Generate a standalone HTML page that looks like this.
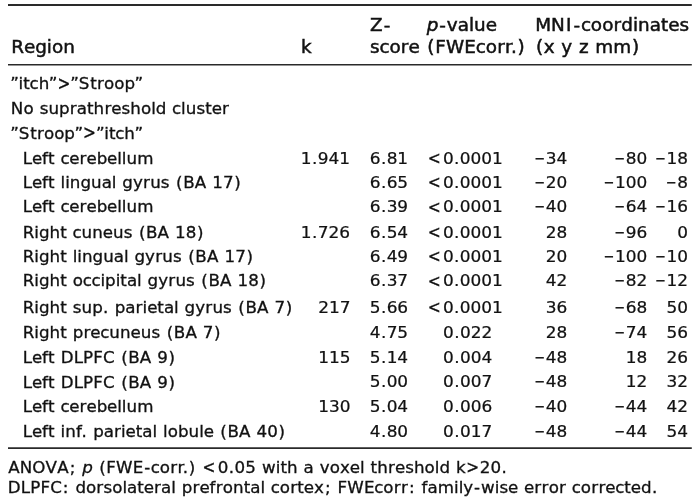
<!DOCTYPE html>
<html lang="en">
<head>
<meta charset="utf-8">
<title>Table</title>
<style>
html,body{margin:0;padding:0;background:#fff;}
body{width:700px;height:500px;overflow:hidden;}
svg{display:block;}
text{font-family:"DejaVu Sans", "Liberation Sans", sans-serif;fill:#111;stroke:#111;white-space:pre;}
.i{font-style:italic;}
.h{font-size:18.3px;stroke-width:0.5px;}
.b{font-size:16.7px;stroke-width:0.32px;}
.n{font-size:16.2px;stroke-width:0.24px;}
.f{font-size:15.6px;stroke-width:0.3px;}
</style>
</head>
<body>
<svg width="700" height="500" viewBox="0 0 700 500" xml:space="preserve">
<rect width="700" height="500" fill="#ffffff"/>
<line x1="8" y1="5.0" x2="691.8" y2="5.0" stroke="#2a2a2a" stroke-width="1.8"/>
<line x1="8" y1="64.7" x2="691.8" y2="64.7" stroke="#2a2a2a" stroke-width="1.6"/>
<line x1="8" y1="448.1" x2="691.8" y2="448.1" stroke="#2a2a2a" stroke-width="1.8"/>
<text class="h" transform="scale(1.005,1)" x="11.22 23.89 34.99 46.56 51.66 62.93" y="53.2">Region</text>
<text class="h" transform="scale(1.005,1)" x="299.58" y="53.2">k</text>
<text class="h" transform="scale(1.005,1)" x="368.23 381.74" y="30.9">Z-</text>
<text class="h" transform="scale(1.005,1)" x="368.21 377.59 387.46 398.87 406.47" y="53.2">score</text>
<text class="h" transform="scale(1.005,1)" x="424.53 437.01 444.57 455.42 466.58 471.72 483.26" y="30.9"><tspan class="i">p</tspan>-value</text>
<text class="h" transform="scale(1.005,1)" x="425.21 433.04 443.73 461.99 473.41 483.28 494.69 502.59 508.36 514.9" y="53.2">(FWEcorr.)</text>
<text class="h" transform="scale(1.005,1)" x="532.54 548.32 563.28 570.77 578.07 587.94 599.17 610.58 618.25 629.81 634.95 646.56 657.79 664.91 676.11" y="30.9">MNI-coordinates</text>
<text class="h" transform="scale(1.005,1)" x="533.27 541.1 552.34 558.57 569.82 576.04 586.05 592.3 610.31 628.86" y="53.2">(x y z mm)</text>
<g><text class="b" x="10.35 18.53 23.22 29.62 38.65 48.83" y="89.3">”itch”</text><text class="b" transform="scale(0.92,1.12)" x="62.49" y="79.96">&gt;</text><text class="b" x="70.37 78.66 90.16 96.92 103.97 114.21 124.39 134.49" y="89.3">”Stroop”</text></g>
<text class="b" x="10.86 23.43 33.97 39.64 48.43 59.02 69.74 76.73 86.97 93.61 104.41 111.34 121.55 130.34 140.98 151.2 155.79 166.66 172.08 181.06 185.74 196.41 205.21 211.7 222.03" y="113.9">No suprathreshold cluster</text>
<g><text class="b" x="10.35 18.64 30.13 36.9 43.94 54.18 64.37 74.47" y="138.7">”Stroop”</text><text class="b" transform="scale(0.92,1.12)" x="90.36" y="124.06">&gt;</text><text class="b" x="96.01 104.2 108.88 115.28 124.31 134.49" y="138.7">”itch”</text></g>
<text class="b" x="22.65 31.89 42.08 48.04 54.95 60.38 69.25 79.59 86.51 96.63 107.08 117.23 121.85 126.53 137.24" y="163.8">Left cerebellum</text>
<text class="n" transform="scale(1.045,1)" x="287.87 298.52 304.01 314.28 324.55" y="163.8">1.941</text>
<text class="n" transform="scale(1.045,1)" x="353.86 364.51 370 380.27" y="163.8">6.81</text>
<g><text class="n" transform="scale(0.9614,1.12)" x="444.81" y="146.47">&lt;</text><text class="n" transform="scale(1.045,1)" x="423.83 434.48 439.98 450.24 460.51 470.78" y="163.8">0.0001</text></g>
<g><text class="n" transform="scale(0.7942,1)" x="672.81" y="163.8">−</text><text class="n" transform="scale(1.045,1)" x="522.32 532.58" y="163.8">34</text></g>
<g><text class="n" transform="scale(0.7942,1)" x="773.54" y="163.8">−</text><text class="n" transform="scale(1.045,1)" x="598.87 609.14" y="163.8">80</text></g>
<g><text class="n" transform="scale(0.7942,1)" x="824.79" y="163.8">−</text><text class="n" transform="scale(1.045,1)" x="637.82 648.09" y="163.8">18</text></g>
<text class="b" x="22.65 31.89 42.08 48.04 54.95 60.57 65.19 69.87 80.45 91.06 101.64 111.82 116.76 122.34 132.95 143.05 150.13 160.81 169.87 176.06 183.21 194.78 206.58 212.25 222.98 234.23" y="187.7">Left lingual gyrus (BA 17)</text>
<text class="n" transform="scale(1.045,1)" x="353.86 364.51 370 380.27" y="187.7">6.65</text>
<g><text class="n" transform="scale(0.9614,1.12)" x="444.81" y="167.81">&lt;</text><text class="n" transform="scale(1.045,1)" x="423.83 434.48 439.98 450.24 460.51 470.78" y="187.7">0.0001</text></g>
<g><text class="n" transform="scale(0.7942,1)" x="672.81" y="187.7">−</text><text class="n" transform="scale(1.045,1)" x="522.32 532.58" y="187.7">20</text></g>
<g><text class="n" transform="scale(0.7942,1)" x="760.03" y="187.7">−</text><text class="n" transform="scale(1.045,1)" x="588.6 598.87 609.14" y="187.7">100</text></g>
<g><text class="n" transform="scale(0.7942,1)" x="838.3" y="187.7">−</text><text class="n" transform="scale(1.045,1)" x="648.09" y="187.7">8</text></g>
<text class="b" x="22.65 31.89 42.08 48.04 54.95 60.38 69.25 79.59 86.51 96.63 107.08 117.23 121.85 126.53 137.24" y="212.4">Left cerebellum</text>
<text class="n" transform="scale(1.045,1)" x="353.86 364.51 370 380.27" y="212.4">6.39</text>
<g><text class="n" transform="scale(0.9614,1.12)" x="444.81" y="189.86">&lt;</text><text class="n" transform="scale(1.045,1)" x="423.83 434.48 439.98 450.24 460.51 470.78" y="212.4">0.0001</text></g>
<g><text class="n" transform="scale(0.7942,1)" x="672.81" y="212.4">−</text><text class="n" transform="scale(1.045,1)" x="522.32 532.58" y="212.4">40</text></g>
<g><text class="n" transform="scale(0.7942,1)" x="773.54" y="212.4">−</text><text class="n" transform="scale(1.045,1)" x="598.87 609.14" y="212.4">64</text></g>
<g><text class="n" transform="scale(0.7942,1)" x="824.79" y="212.4">−</text><text class="n" transform="scale(1.045,1)" x="637.82 648.09" y="212.4">16</text></g>
<text class="b" x="22.66 34.32 38.9 49.5 60.19 67.1 72.52 81.56 92.24 102.76 112.97 123.65 132.7 138.9 146.05 157.62 169.41 175.09 185.82 197.07" y="237.6">Right cuneus (BA 18)</text>
<text class="n" transform="scale(1.045,1)" x="287.87 298.52 304.01 314.28 324.55" y="237.6">1.726</text>
<text class="n" transform="scale(1.045,1)" x="353.86 364.51 370 380.27" y="237.6">6.54</text>
<g><text class="n" transform="scale(0.9614,1.12)" x="444.81" y="212.36">&lt;</text><text class="n" transform="scale(1.045,1)" x="423.83 434.48 439.98 450.24 460.51 470.78" y="237.6">0.0001</text></g>
<text class="n" transform="scale(1.045,1)" x="522.32 532.58" y="237.6">28</text>
<g><text class="n" transform="scale(0.7942,1)" x="773.54" y="237.6">−</text><text class="n" transform="scale(1.045,1)" x="598.87 609.14" y="237.6">96</text></g>
<text class="n" transform="scale(1.045,1)" x="648.09" y="237.6">0</text>
<text class="b" x="22.66 34.32 38.9 49.5 60.19 67.1 72.71 77.33 82.01 92.6 103.2 113.79 123.96 128.91 134.49 145.09 155.2 162.28 172.96 182.02 188.21 195.36 206.93 218.72 224.4 235.13 246.38" y="261.9">Right lingual gyrus (BA 17)</text>
<text class="n" transform="scale(1.045,1)" x="353.86 364.51 370 380.27" y="261.9">6.49</text>
<g><text class="n" transform="scale(0.9614,1.12)" x="444.81" y="234.06">&lt;</text><text class="n" transform="scale(1.045,1)" x="423.83 434.48 439.98 450.24 460.51 470.78" y="261.9">0.0001</text></g>
<text class="n" transform="scale(1.045,1)" x="522.32 532.58" y="261.9">20</text>
<g><text class="n" transform="scale(0.7942,1)" x="760.03" y="261.9">−</text><text class="n" transform="scale(1.045,1)" x="588.6 598.87 609.14" y="261.9">100</text></g>
<g><text class="n" transform="scale(0.7942,1)" x="824.79" y="261.9">−</text><text class="n" transform="scale(1.045,1)" x="637.82 648.09" y="261.9">10</text></g>
<text class="b" x="22.66 34.32 38.9 49.5 60.19 67.1 72.73 82.76 91.55 100.53 105.12 115.66 120.34 126.89 137.07 142.02 147.6 158.2 168.31 175.39 186.06 195.12 201.32 208.46 220.04 231.83 237.51 248.24 259.49" y="286.4">Right occipital gyrus (BA 18)</text>
<text class="n" transform="scale(1.045,1)" x="353.86 364.51 370 380.27" y="286.4">6.37</text>
<g><text class="n" transform="scale(0.9614,1.12)" x="444.81" y="255.93">&lt;</text><text class="n" transform="scale(1.045,1)" x="423.83 434.48 439.98 450.24 460.51 470.78" y="286.4">0.0001</text></g>
<text class="n" transform="scale(1.045,1)" x="522.32 532.58" y="286.4">42</text>
<g><text class="n" transform="scale(0.7942,1)" x="773.54" y="286.4">−</text><text class="n" transform="scale(1.045,1)" x="598.87 609.14" y="286.4">82</text></g>
<g><text class="n" transform="scale(0.7942,1)" x="824.79" y="286.4">−</text><text class="n" transform="scale(1.045,1)" x="637.82 648.09" y="286.4">12</text></g>
<text class="b" x="22.66 34.32 38.9 49.5 60.19 67.1 72.77 81.56 92.14 103.11 109.15 114.73 125.24 135.6 142.62 147.14 157.36 163.91 174.08 179.03 184.61 195.22 205.32 212.4 223.08 232.14 238.33 245.48 257.05 268.85 274.52 285.77" y="312.8">Right sup. parietal gyrus (BA 7)</text>
<text class="n" transform="scale(1.045,1)" x="304.59 314.85 325.12" y="312.8">217</text>
<text class="n" transform="scale(1.045,1)" x="353.86 364.51 370 380.27" y="312.8">5.66</text>
<g><text class="n" transform="scale(0.9614,1.12)" x="444.81" y="279.5">&lt;</text><text class="n" transform="scale(1.045,1)" x="423.83 434.48 439.98 450.24 460.51 470.78" y="312.8">0.0001</text></g>
<text class="n" transform="scale(1.045,1)" x="522.32 532.58" y="312.8">36</text>
<g><text class="n" transform="scale(0.7942,1)" x="773.54" y="312.8">−</text><text class="n" transform="scale(1.045,1)" x="598.87 609.14" y="312.8">68</text></g>
<text class="n" transform="scale(1.045,1)" x="637.82 648.09" y="312.8">50</text>
<text class="b" x="22.66 34.32 38.9 49.5 60.19 67.1 72.68 83.4 90.32 100.29 109.33 120 130.53 140.74 151.41 160.47 166.67 173.81 185.39 197.18 202.86 214.11" y="337.5">Right precuneus (BA 7)</text>
<text class="n" transform="scale(1.045,1)" x="353.86 364.51 370 380.27" y="338.5">4.75</text>
<text class="n" transform="scale(1.045,1)" x="423.97 434.62 440.12 450.38 460.65" y="338.5">0.022</text>
<text class="n" transform="scale(1.045,1)" x="522.32 532.58" y="338.5">28</text>
<g><text class="n" transform="scale(0.7942,1)" x="773.54" y="338.5">−</text><text class="n" transform="scale(1.045,1)" x="598.87 609.14" y="338.5">74</text></g>
<text class="n" transform="scale(1.045,1)" x="637.82 648.09" y="338.5">56</text>
<text class="b" x="22.65 31.89 42.08 48.04 54.95 60.65 73.63 83.03 93.2 102.91 114.94 121.14 128.28 139.85 151.65 157.33 168.57" y="362.8">Left DLPFC (BA 9)</text>
<text class="n" transform="scale(1.045,1)" x="304.59 314.85 325.12" y="362.6">115</text>
<text class="n" transform="scale(1.045,1)" x="353.86 364.51 370 380.27" y="362.6">5.14</text>
<text class="n" transform="scale(1.045,1)" x="423.97 434.62 440.12 450.38 460.65" y="362.6">0.004</text>
<g><text class="n" transform="scale(0.7942,1)" x="672.81" y="362.6">−</text><text class="n" transform="scale(1.045,1)" x="522.32 532.58" y="362.6">48</text></g>
<text class="n" transform="scale(1.045,1)" x="598.87 609.14" y="362.6">18</text>
<text class="n" transform="scale(1.045,1)" x="637.82 648.09" y="362.6">26</text>
<text class="b" x="22.65 31.89 42.08 48.04 54.95 60.65 73.63 83.03 93.2 102.91 114.94 121.14 128.28 139.85 151.65 157.33 168.57" y="387.6">Left DLPFC (BA 9)</text>
<text class="n" transform="scale(1.045,1)" x="353.86 364.51 370 380.27" y="387.1">5.00</text>
<text class="n" transform="scale(1.045,1)" x="423.97 434.62 440.12 450.38 460.65" y="387.1">0.007</text>
<g><text class="n" transform="scale(0.7942,1)" x="672.81" y="387.1">−</text><text class="n" transform="scale(1.045,1)" x="522.32 532.58" y="387.1">48</text></g>
<text class="n" transform="scale(1.045,1)" x="598.87 609.14" y="387.1">12</text>
<text class="n" transform="scale(1.045,1)" x="637.82 648.09" y="387.1">32</text>
<text class="b" x="22.65 31.89 42.08 48.04 54.95 60.38 69.25 79.59 86.51 96.63 107.08 117.23 121.85 126.53 137.24" y="411.9">Left cerebellum</text>
<text class="n" transform="scale(1.045,1)" x="304.59 314.85 325.12" y="411.75">130</text>
<text class="n" transform="scale(1.045,1)" x="353.86 364.51 370 380.27" y="411.75">5.04</text>
<text class="n" transform="scale(1.045,1)" x="423.97 434.62 440.12 450.38 460.65" y="411.75">0.006</text>
<g><text class="n" transform="scale(0.7942,1)" x="672.81" y="411.75">−</text><text class="n" transform="scale(1.045,1)" x="522.32 532.58" y="411.75">40</text></g>
<g><text class="n" transform="scale(0.7942,1)" x="773.54" y="411.75">−</text><text class="n" transform="scale(1.045,1)" x="598.87 609.14" y="411.75">44</text></g>
<text class="n" transform="scale(1.045,1)" x="637.82 648.09" y="411.75">42</text>
<text class="b" x="22.65 31.89 42.08 48.04 54.95 60.57 65.24 75.9 81.56 87.59 93.17 103.68 114.04 121.06 125.58 135.8 142.35 152.52 157.47 163.08 167.73 177.91 188.51 199.14 203.66 214.14 220.33 227.48 239.05 250.85 256.52 267.25 278.5" y="436.5">Left inf. parietal lobule (BA 40)</text>
<text class="n" transform="scale(1.045,1)" x="353.86 364.51 370 380.27" y="437.2">4.80</text>
<text class="n" transform="scale(1.045,1)" x="423.97 434.62 440.12 450.38 460.65" y="437.2">0.017</text>
<g><text class="n" transform="scale(0.7942,1)" x="672.81" y="437.2">−</text><text class="n" transform="scale(1.045,1)" x="522.32 532.58" y="437.2">48</text></g>
<g><text class="n" transform="scale(0.7942,1)" x="773.54" y="437.2">−</text><text class="n" transform="scale(1.045,1)" x="598.87 609.14" y="437.2">44</text></g>
<text class="n" transform="scale(1.045,1)" x="637.82 648.09" y="437.2">54</text>
<g><text class="f" transform="scale(1.07,1)" x="7.63 18.42 30.21 42.61 53.4 65.08 71.58 76.79 86.95 92.74 99.41 108.51 124.07 134.75 140.96 149.37 159.09 165.82 170.73 176.3 183.22" y="472.8">ANOVA; <tspan class="i">p</tspan> (FWE-corr.) </text><text class="f" transform="scale(0.9844,1.12)" x="205.66" y="422.35">&lt;</text><text class="f" transform="scale(1.07,1)" x="203.5 213.87 219.27 229.3 239.57 244.89 257.71 262.09 268.3 278.53 283.74 293.55 298.86 308.15 317.76 326.94 336.43 341.06 346.36 352.57 362.66 369.13 378.67 386.89 396.84 406.39 410.68 420.83 426.24" y="472.8">0.05 with a voxel threshold k</text><text class="f" transform="scale(0.9844,1.12)" x="473.76" y="422.35">&gt;</text><text class="f" transform="scale(1.07,1)" x="448.37 458.4 468.76" y="472.8">20.</text></g>
<text class="f" transform="scale(1.07,1)" x="7.36 19.49 28.28 37.78 46.86 58.76 65.26 70.47 80.35 90.06 96.68 104.86 114.42 118.7 128.27 134.33 143.99 150.52 160.03 164.65 169.86 179.89 186.36 195.88 201.56 208.15 217.75 227.74 233.86 243.37 247.99 253.06 261.47 271.19 277.81 283.87 293.42 303.65 310.16 315.46 324.56 340.12 349.85 358.26 367.98 374.71 382.23 388.74 394.02 399.5 409.09 424.35 428.67 433.05 443.1 449.56 462.38 466.75 474.82 484.61 489.77 499.42 506.15 512.74 522.46 529.33 534.4 542.81 552.52 559.26 565.73 575.04 583.49 589.55 599.01 609.26" y="492.8">DLPFC: dorsolateral prefrontal cortex; FWEcorr: family-wise error corrected.</text>
</svg>
</body>
</html>
